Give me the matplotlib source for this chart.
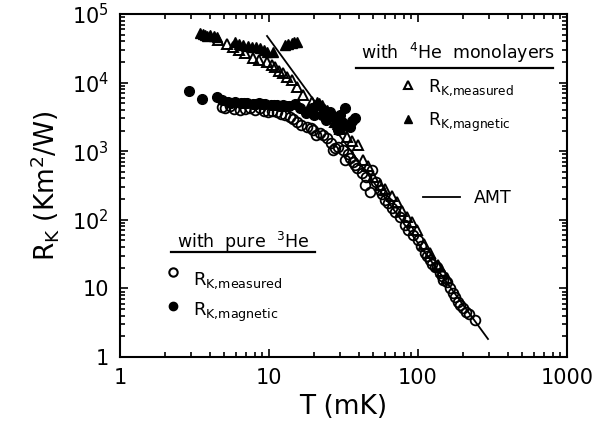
import matplotlib
matplotlib.use("Agg")
from matplotlib import pyplot as plt
from matplotlib.lines import Line2D
from matplotlib.ticker import FixedLocator, FixedFormatter, LogLocator, NullFormatter

plt.rcParams['font.family'] = 'DejaVu Sans'
plt.rcParams['mathtext.default'] = 'regular'

# pure 3He, measured (open circles)
he3_meas_T = [4.84, 5.1, 5.47, 5.8, 6.39, 6.9, 7.45, 8.0, 8.71, 9.3, 9.85, 10.5, 11.3,
              12.0, 12.8, 13.8, 14.5, 15.4, 16.5, 18.0, 19.0, 19.7, 20.7, 22.0, 23.0,
              24.5, 26.0, 26.9, 27.7, 29.0, 31.4, 32.4, 34.0, 35.0, 36.6, 38.0, 39.0,
              42.1, 44.1, 45.0, 49.1, 47.6, 52.0, 55.6, 57.0, 60.1, 63.0, 66.9, 70.0,
              75.7, 81.8, 86.0, 92.5, 100, 105, 111, 115, 120, 125, 130, 134, 141,
              145, 147, 157, 165, 172, 178, 185, 192, 200, 210, 220, 241]
he3_meas_R = [4410, 4300, 4560, 4150, 3990, 4100, 4260, 4000, 4260, 3900, 3730, 3800, 3730,
              3500, 3370, 3150, 2900, 2670, 2450, 2250, 2150, 2040, 1720, 1840, 1700,
              1560, 1300, 1040, 1110, 1150, 1040, 744, 900, 796, 696, 620, 569,
              481, 322, 420, 532, 254, 360, 272, 240, 194, 175, 149, 130,
              110, 84.0, 70.0, 60.0, 50.8, 42.0, 32.8, 30.0, 25.9, 23.0, 20.5, 20.5, 16.8,
              15.0, 13.3, 12.4, 10.0, 8.57, 7.5, 6.34, 5.8, 5.18, 4.6, 4.3, 3.46]

# pure 3He, magnetic (filled circles)
he3_mag_T = [2.90, 3.55, 4.48, 4.84, 5.31, 5.6, 5.91, 6.49, 6.8, 7.12, 7.81, 8.2, 8.57,
             9.0, 9.40, 10.3, 10.8, 11.3, 11.8, 12.4, 13.0, 13.6, 14.9, 16.1, 17.7,
             18.8, 19.5, 20.0, 21.0, 22.7, 23.5, 24.1, 25.7, 26.5, 28.6, 29.0, 30.0,
             31.0, 32.4, 33.5, 35.0, 36.0, 37.8]
he3_mag_R = [7550, 5770, 6170, 5570, 5210, 5100, 5210, 5040, 5000, 5040, 4870, 4950, 5040,
             4800, 4870, 4710, 4650, 4710, 4600, 4710, 4550, 4560, 4870, 4260, 3610,
             3730, 4200, 3400, 4710, 3370, 3900, 2850, 3730, 3300, 2670, 2040, 3370,
             2700, 4260, 2300, 2250, 2800, 3050]

# 4He monolayers, measured (open triangles)
he4_meas_T = [4.55, 5.2, 5.73, 6.3, 6.90, 7.81, 8.6, 9.70, 10.4, 11.0, 11.7, 12.4, 13.3,
              14.3, 15.4, 17.0, 19.5, 23.8, 27.7, 30.0, 33.4, 36.0, 39.6, 42.7, 46.0,
              50.0, 55.6, 60.0, 66.9, 72.0, 78.1, 85.0, 91.2, 98.4, 110, 120, 136,
              145, 157]
he4_meas_R = [41800, 36000, 33000, 30000, 27000, 22800, 21500, 20000, 18000, 16900, 15000,
              13800, 12000, 10900, 8630, 6500, 5300, 3990, 2670, 2100, 1610, 1400, 1230,
              744, 600, 420, 322, 280, 222, 180, 134, 110, 92.9, 71.0, 45.0, 33.0,
              21.9, 18.0, 14.2]

# 4He monolayers, magnetic (filled triangles)
he4_mag_T = [3.44, 3.58, 3.72, 3.85, 4.02, 4.25, 4.48, 5.91, 6.3, 6.69, 7.2, 7.69, 8.2,
             8.71, 9.2, 9.70, 10.6, 12.8, 13.5, 14.3, 14.8, 15.4, 21.0, 21.8, 22.7,
             24.5, 25.7, 27.7, 28.5, 30.0]
he4_mag_R = [52800, 51000, 49400, 48500, 49400, 47000, 46200, 39100, 37000, 35300, 34000,
             33000, 32500, 31900, 30000, 27900, 27900, 35300, 36500, 37800, 38500, 39100,
             5210, 5000, 4710, 4000, 3370, 2670, 2500, 2180]

# AMT line end points
amt_T = [9.7, 295]
amt_R = [47800, 1.83]

x_ticks = [1, 10, 100, 1000]
x_labels = ['1', '10', '100', '1000']
y_ticks = [1, 10, 100, 1e3, 1e4, 1e5]
y_labels = ['1', '10', '$10^2$', '$10^3$', '$10^4$', '$10^5$']

W, H = 592, 432


def fx(px):
    return px / W


def fy(py):
    return 1 - py / H


def main():
    fig = plt.figure(figsize=(W / 100, H / 100), dpi=100)
    ax = fig.add_axes([120 / W, 75 / H, 447 / W, 343 / H])
    ax.set_xscale('log')
    ax.set_yscale('log')
    ax.set_xlim(1, 1000)
    ax.set_ylim(1, 1e5)

    ax.plot(amt_T, amt_R, color='black', lw=1.3)
    ax.plot(he3_meas_T, he3_meas_R, 'o', mfc='none', mec='black', ms=7, mew=1.3)
    ax.plot(he4_meas_T, he4_meas_R, '^', mfc='none', mec='black', ms=7, mew=1.4)
    ax.plot(he3_mag_T, he3_mag_R, 'o', color='black', ms=7)
    ax.plot(he4_mag_T, he4_mag_R, '^', color='black', ms=7)

    ax.xaxis.set_major_locator(FixedLocator(x_ticks))
    ax.xaxis.set_major_formatter(FixedFormatter(x_labels))
    ax.yaxis.set_major_locator(FixedLocator(y_ticks))
    ax.yaxis.set_major_formatter(FixedFormatter(y_labels))
    for axis in (ax.xaxis, ax.yaxis):
        axis.set_minor_locator(LogLocator(base=10, subs=range(2, 10), numticks=20))
        axis.set_minor_formatter(NullFormatter())
    ax.tick_params(which='both', direction='in', top=True, right=True, width=1.2)
    ax.tick_params(which='major', length=6, labelsize=15, pad=8)
    ax.tick_params(which='minor', length=3.5)
    for s in ax.spines.values():
        s.set_linewidth(1.5)

    ax.set_xlabel('T (mK)', fontsize=19, labelpad=4)
    ax.set_ylabel('R$_K$ (Km$^2$/W)', fontsize=19, labelpad=8)

    # 4He legend block
    fig.text(fx(361), fy(59), 'with  $^4$He  monolayers', fontsize=12.5, va='baseline')
    fig.add_artist(Line2D([fx(356), fx(553)], [fy(68), fy(68)], color='black', lw=1.6))
    fig.add_artist(Line2D([fx(408)], [fy(85)], marker='^', mfc='none', mec='black',
                          ms=6, mew=1.5, ls='none'))
    fig.text(fx(428), fy(92), 'R$_{K{,}measured}$', fontsize=12.5, va='baseline')
    fig.add_artist(Line2D([fx(408)], [fy(119)], marker='^', color='black', ms=6, ls='none'))
    fig.text(fx(428), fy(126), 'R$_{K{,}magnetic}$', fontsize=12.5, va='baseline')

    # AMT
    fig.add_artist(Line2D([fx(423), fx(460)], [fy(197), fy(197)], color='black', lw=1.3))
    fig.text(fx(474), fy(203), 'AMT', fontsize=12.5, va='baseline')

    # pure 3He legend block
    fig.text(fx(177), fy(248), 'with  pure  $^3$He', fontsize=12.5, va='baseline')
    fig.add_artist(Line2D([fx(171), fx(315)], [fy(252), fy(252)], color='black', lw=1.6))
    fig.add_artist(Line2D([fx(173)], [fy(272)], marker='o', mfc='none', mec='black',
                          ms=6, mew=1.5, ls='none'))
    fig.text(fx(193), fy(285), 'R$_{K{,}measured}$', fontsize=13, va='baseline')
    fig.add_artist(Line2D([fx(173)], [fy(306)], marker='o', color='black', ms=6, ls='none'))
    fig.text(fx(193), fy(316), 'R$_{K{,}magnetic}$', fontsize=13, va='baseline')

    fig.savefig('out.png', dpi=100)


if __name__ == "__main__":
    main()
